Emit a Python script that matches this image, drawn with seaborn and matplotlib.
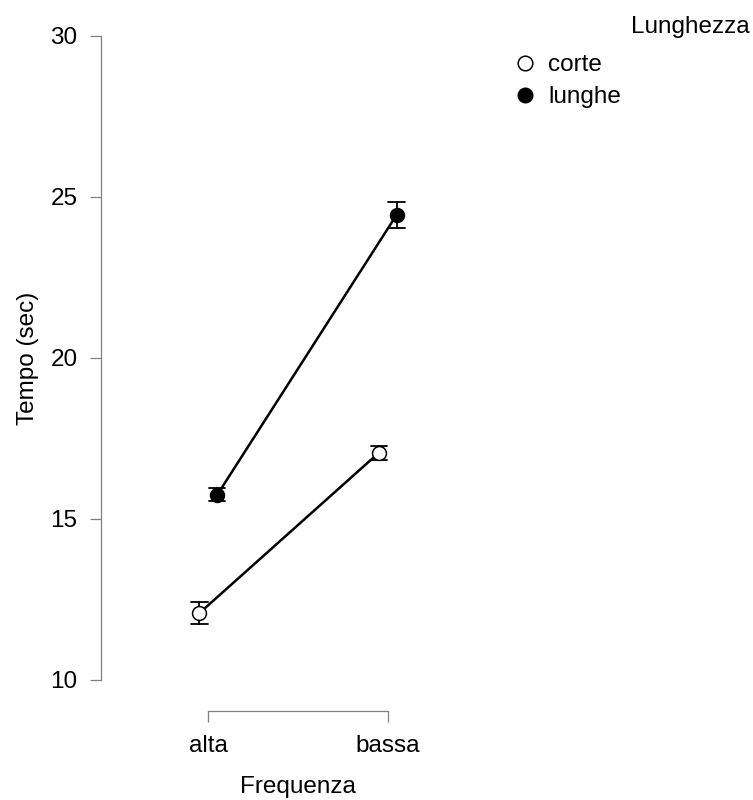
import pandas as pd
import seaborn as sns
import matplotlib.pyplot as plt
from matplotlib.lines import Line2D

# data
frequenza = ["alta", "bassa"]
lunghezza = ["corte", "lunghe"]
mean_corte = [12.08, 17.05]
mean_lunghe = [15.76, 24.44]
se_corte = [0.34, 0.22]
se_lunghe = [0.20, 0.40]

# two rows per cell (mean - se, mean + se) so pointplot gives mean and the bar from min/max
rows = []
for lev, means, ses in [("corte", mean_corte, se_corte), ("lunghe", mean_lunghe, se_lunghe)]:
    for f, m, s in zip(frequenza, means, ses):
        rows.append({"Frequenza": f, "Lunghezza": lev, "Tempo": m - s})
        rows.append({"Frequenza": f, "Lunghezza": lev, "Tempo": m + s})
df = pd.DataFrame(rows)

sns.set_theme(style="ticks")
plt.rcParams["font.family"] = ["Liberation Sans", "DejaVu Sans"]
plt.rcParams["text.color"] = "black"
plt.rcParams["axes.labelcolor"] = "black"

fig = plt.figure(figsize=(7.53, 8.0), dpi=100)
ax = fig.add_axes([101 / 753, 89 / 800, 394 / 753, 678 / 800])

sns.pointplot(data=df, x="Frequenza", y="Tempo", hue="Lunghezza",
              order=frequenza, hue_order=lunghezza,
              palette={"corte": "black", "lunghe": "black"},
              errorbar=lambda v: (v.min(), v.max()),
              dodge=0.1, capsize=0.09, err_kws={"linewidth": 1.3},
              markers="o", markersize=10, linewidth=1.8,
              legend=False, ax=ax)

face = {0: "white", 1: "black"}
k = 0
for ln in ax.lines:
    if ln.get_marker() not in (None, "None", ""):
        ln.set_markerfacecolor(face.get(k, "black"))
        ln.set_markeredgecolor("black")
        ln.set_markeredgewidth(1.1)
        ln.set_zorder(5)
        k += 1

ax.set_xlim(-0.6, 1.6)
ax.set_ylim(10 - 31 / 32.2, 30 + 3 / 32.2)
ax.set_yticks([10, 15, 20, 25, 30])

sns.despine(ax=ax)
ax.spines["left"].set_bounds(10, 30)
ax.spines["bottom"].set_bounds(0, 1)
for s in ["left", "bottom"]:
    ax.spines[s].set_color("#808080")
    ax.spines[s].set_linewidth(0.9)
ax.tick_params(axis="both", length=8, width=0.9, color="#808080",
               labelsize=17.5, pad=9, labelcolor="black")

ax.set_xlabel("Frequenza", fontsize=17.5, labelpad=14)
ax.set_ylabel("Tempo (sec)", fontsize=17.5, labelpad=8)
ax.yaxis.label.set_y(0.5206)

handles = [
    Line2D([], [], linestyle="none", marker="o", markersize=10.5,
           markerfacecolor="white", markeredgecolor="black", markeredgewidth=1.1),
    Line2D([], [], linestyle="none", marker="o", markersize=10.5,
           markerfacecolor="black", markeredgecolor="black"),
]
fig.legend(handles, lunghezza, loc="upper left", bbox_to_anchor=(513 / 753, 1 - 54 / 800),
           frameon=False, fontsize=17.5, handlelength=1.0, handletextpad=0.45,
           labelspacing=0.42, borderpad=0, borderaxespad=0)
fig.text(750 / 753, 1 - 27 / 800, "Lunghezza", ha="right", va="center", fontsize=17.5)

fig.savefig("out.png", dpi=100)
